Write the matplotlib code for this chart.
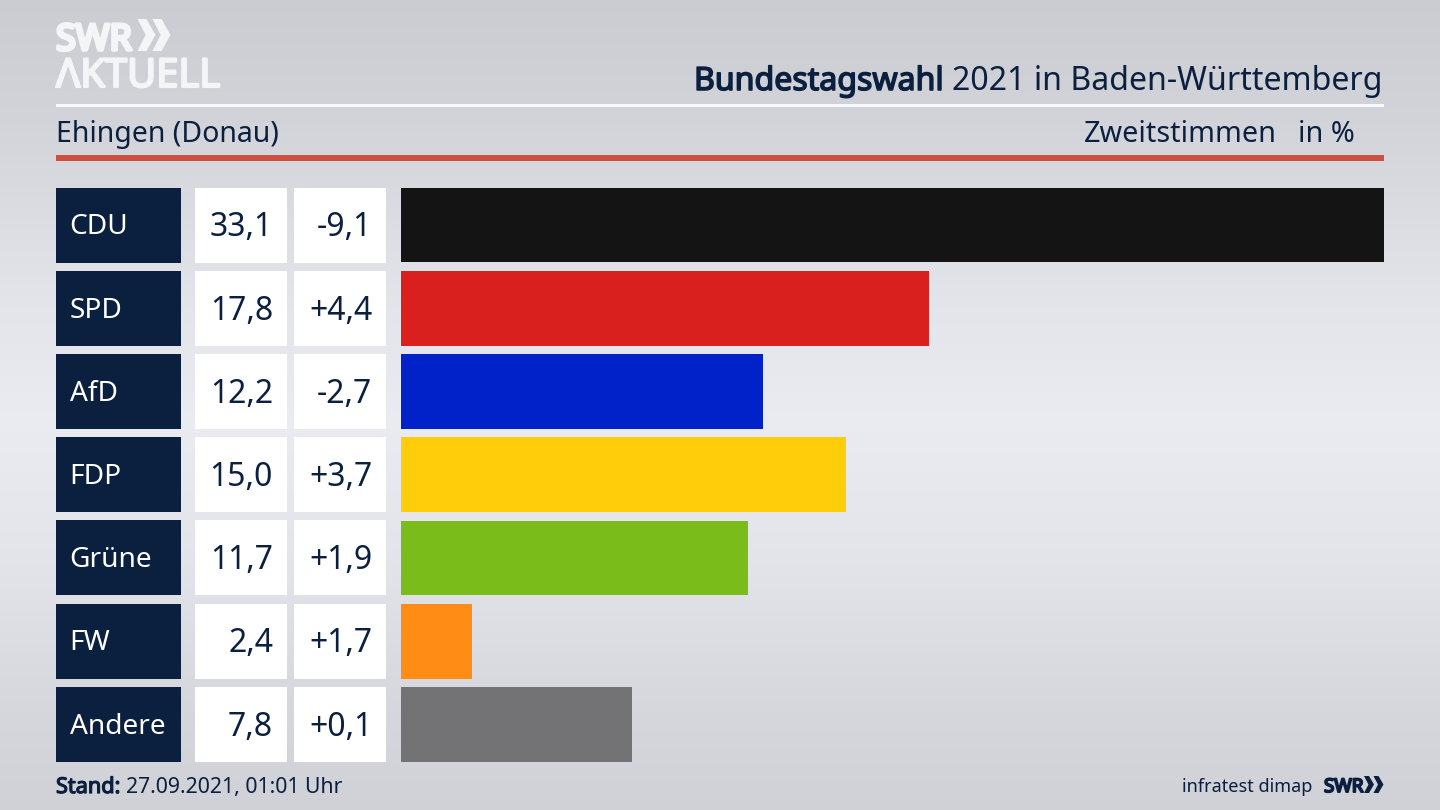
#!/usr/bin/env python3
"""Bundestagswahl result graphic, Ehingen (Donau)."""
import numpy as np
import matplotlib
matplotlib.use("Agg")
import matplotlib.pyplot as plt
import matplotlib.patheffects as pe
from matplotlib.patches import Rectangle, Polygon

plt.rcParams['font.family'] = ['Noto Sans', 'DejaVu Sans']

parties = ['CDU', 'SPD', 'AfD', 'FDP', 'Grüne', 'FW', 'Andere']
shares = [33.1, 17.8, 12.2, 15.0, 11.7, 2.4, 7.8]
changes = ['-9,1', '+4,4', '-2,7', '+3,7', '+1,9', '+1,7', '+0,1']
colors = ['#141414', '#da201e', '#0022c8', '#ffcd0a', '#7abd1a', '#ff8c14', '#737375']

navy = '#0b1f3f'
logo_white = '#f4f5f7'
W, H = 1440, 810


def heavy(color, lw):
    # installed Noto Sans has no usable bold weight here, so thicken with a stroke
    return [pe.withStroke(linewidth=lw, foreground=color)]


def chevron(target, x0, top, bottom, width, color):
    # one arrow of the SWR logo
    mid = (top + bottom) / 2
    arm = width / 2
    pts = [(x0, top), (x0 + arm, top), (x0 + width, mid), (x0 + arm, bottom), (x0, bottom), (x0 + arm * 0.9, mid)]
    target.add_patch(Polygon(pts, closed=True, fc=color, ec='none', zorder=2))


fig = plt.figure(figsize=(W / 100, H / 100), dpi=100)

# pixel axes for background and layout stuff
bg = fig.add_axes([0, 0, 1, 1])
bg.set_xlim(0, W)
bg.set_ylim(H, 0)
bg.axis('off')

stops_y = [0, 120, 300, 420, 560, 700, 810]
stops_v = [0.795, 0.825, 0.89, 0.918, 0.89, 0.84, 0.815]
grad = np.interp(np.arange(H), stops_y, stops_v)
grad = np.stack([grad, grad + 0.006, grad + 0.03], axis=1).clip(0, 1)[:, None, :]
bg.imshow(grad, extent=[0, W, H, 0], aspect='auto', zorder=0)

# logo
bg.text(56, 50, 'SWR', fontsize=26, color=logo_white, va='baseline',
        path_effects=heavy(logo_white, 2.6))
for x0 in (137.5, 152.5):
    chevron(bg, x0, 19, 51, 18, logo_white)
bg.text(56, 87, 'ΛKTUELL', fontsize=28.7, color=logo_white, va='baseline',
        path_effects=heavy(logo_white, 1.6))

# header
bg.text(1383, 90, '2021 in Baden-Württemberg', fontsize=23.1, color=navy, ha='right', va='baseline')
bg.text(944, 90, 'Bundestagswahl', fontsize=23.1, color=navy, ha='right', va='baseline',
        path_effects=heavy(navy, 1.1))
bg.add_patch(Rectangle((56, 104), 1328, 3, fc='#f7f8f9', ec='none', zorder=2))
bg.text(56, 142, 'Ehingen (Donau)', fontsize=20.5, color=navy, va='baseline')
bg.text(1277, 142, 'Zweitstimmen', fontsize=20.7, color=navy, ha='right', va='baseline')
bg.text(1355, 142, 'in %', fontsize=20.7, color=navy, ha='right', va='baseline')
bg.add_patch(Rectangle((56, 155), 1328, 5.5, fc='#cd4f3f', ec='none', zorder=2))

# table cells left of the bars
top0, step, row_h = 187.5, 83.2, 75
for i, (party, share, change) in enumerate(zip(parties, shares, changes)):
    top = top0 + i * step
    mid = top + row_h / 2
    bg.add_patch(Rectangle((56, top), 125, row_h, fc=navy, ec='none', zorder=2))
    bg.add_patch(Rectangle((195, top), 92, row_h, fc='white', ec='none', zorder=2))
    bg.add_patch(Rectangle((294, top), 92, row_h, fc='white', ec='none', zorder=2))
    bg.text(69.5, mid - 1, party, fontsize=20.2, color='white', va='center_baseline', zorder=3)
    bg.text(273, mid - 1, f'{share:.1f}'.replace('.', ','), fontsize=23, color=navy,
            ha='right', va='center_baseline', zorder=3)
    bg.text(372.5, mid - 1, change, fontsize=23, color=navy, ha='right', va='center_baseline', zorder=3)

# bars
ax = fig.add_axes([400.5 / W, 1 - 762 / H, (1384 - 400.5) / W, (762 - 187.5) / H])
ax.patch.set_alpha(0)
ax.barh(np.arange(len(parties)), shares, height=0.9, color=colors)
ax.set_xlim(0, 33.1)
ax.set_ylim(6.45, -0.45)
ax.axis('off')

# footer
bg.text(56, 793, 'Stand:', fontsize=15.6, color=navy, va='baseline', path_effects=heavy(navy, 0.9))
bg.text(126, 793, '27.09.2021, 01:01 Uhr', fontsize=15.3, color=navy, va='baseline')
bg.text(1312, 792, 'infratest dimap', fontsize=13, color=navy, ha='right', va='baseline')
bg.text(1324, 792, 'SWR', fontsize=13.5, color=navy, va='baseline', path_effects=heavy(navy, 1.4))
for x0 in (1364, 1373.5):
    chevron(bg, x0, 776, 793, 10, navy)

fig.savefig('out.png', dpi=100)
